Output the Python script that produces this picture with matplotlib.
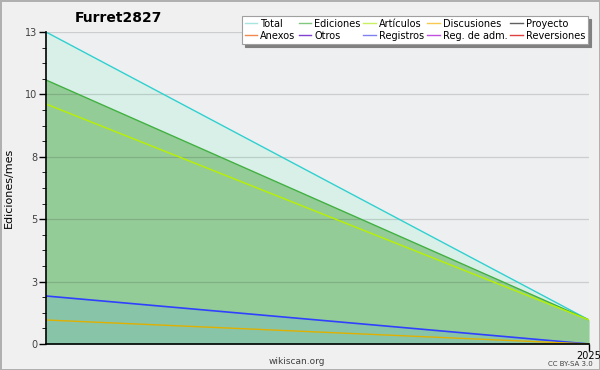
import matplotlib.pyplot as plt
from matplotlib.lines import Line2D
import numpy as np

# data
months = ['2024-12', '2025-01']
total = [13, 1.0]
ediciones = [11, 1.0]
articulos = [10, 1.0]
registros = [2, 0]
discusiones = [1.0, 0]
xtick_labels = ['2025']
ytick_labels = ['0', '3', '5', '8', '10', '13']

legend_names = ['Total', 'Anexos', 'Ediciones', 'Otros', 'Artículos', 'Registros',
                'Discusiones', 'Reg. de adm.', 'Proyecto', 'Reversiones']
legend_colors = ['#a8e4e0', '#f08850', '#80c880', '#8040d0', '#c8f060', '#8080f0',
                 '#f8c850', '#c050e0', '#606060', '#e04040']

plt.rcParams['font.family'] = 'DejaVu Sans'

fig = plt.figure(figsize=(6, 3.7), dpi=100, facecolor='#f0f0f0',
                 edgecolor='#b0b0b0', linewidth=2)
ax = fig.add_axes([0.0767, 0.0703, 0.905, 0.8432])
ax.set_facecolor('#eeeff1')

x = np.arange(len(months))
ax.fill_between(x, 0, total, color='#d8f0e8', lw=0)
ax.fill_between(x, 0, ediciones, color='#94cc98', lw=0)
ax.fill_between(x, 0, registros, color='#4497ff', alpha=0.15, lw=0)

ax.set_xlim(0, 1)
ax.set_ylim(0, 13)
yt = np.linspace(0, 13, 6)
for y in yt[1:]:
    ax.axhline(y, color='black', alpha=0.14, lw=0.9, zorder=1.5)

ax.plot(x, total, color='#30d0d0', lw=1)
ax.plot(x, ediciones, color='#40b040', lw=1)
ax.plot(x, articulos, color='#b8f000', lw=1)
ax.plot(x, registros, color='#3040ff', lw=1.2)
ax.plot(x, discusiones, color='#e0b000', lw=1)

ax.set_yticks(yt)
ax.set_yticklabels(ytick_labels)
ax.set_yticks(np.arange(0, 13.01, 13 / 20), minor=True)
ax.set_xticks([1])
ax.set_xticklabels(xtick_labels)
ax.tick_params(axis='both', labelsize=7, length=5, width=1, colors='#000000', pad=1)
ax.tick_params(axis='x', pad=0)
ax.tick_params(axis='y', which='minor', length=3)
ax.tick_params(axis='y', labelcolor='#404040')
for s in ['top', 'right']:
    ax.spines[s].set_visible(False)
ax.spines['left'].set_linewidth(1.2)
ax.spines['bottom'].set_linewidth(1.2)

ax.set_ylabel('Ediciones/mes', fontsize=8, labelpad=8)
fig.text(0.197, 0.952, 'Furret2827', fontsize=10, fontweight='bold', ha='center', va='center')
fig.text(0.495, 0.024, 'wikiscan.org', fontsize=6.5, color='#404040', ha='center', va='center')
fig.text(0.95, 0.016, 'CC BY-SA 3.0', fontsize=5, color='#404040', ha='center', va='center')

handles = [Line2D([], [], color=c, lw=1) for c in legend_colors]
leg = fig.legend(handles, legend_names, ncol=5, loc='upper right',
                 bbox_to_anchor=(0.988, 0.97), fontsize=7, frameon=True,
                 fancybox=False, shadow={'color': '#808080', 'alpha': 1},
                 handlelength=1.3, handletextpad=0.3,
                 columnspacing=0.3, labelspacing=0.2, borderpad=0.3)
leg.get_frame().set_edgecolor('#a0a0a0')
leg.get_frame().set_linewidth(0.8)

fig.savefig('out.png', dpi=100, facecolor=fig.get_facecolor(), edgecolor=fig.get_edgecolor())
